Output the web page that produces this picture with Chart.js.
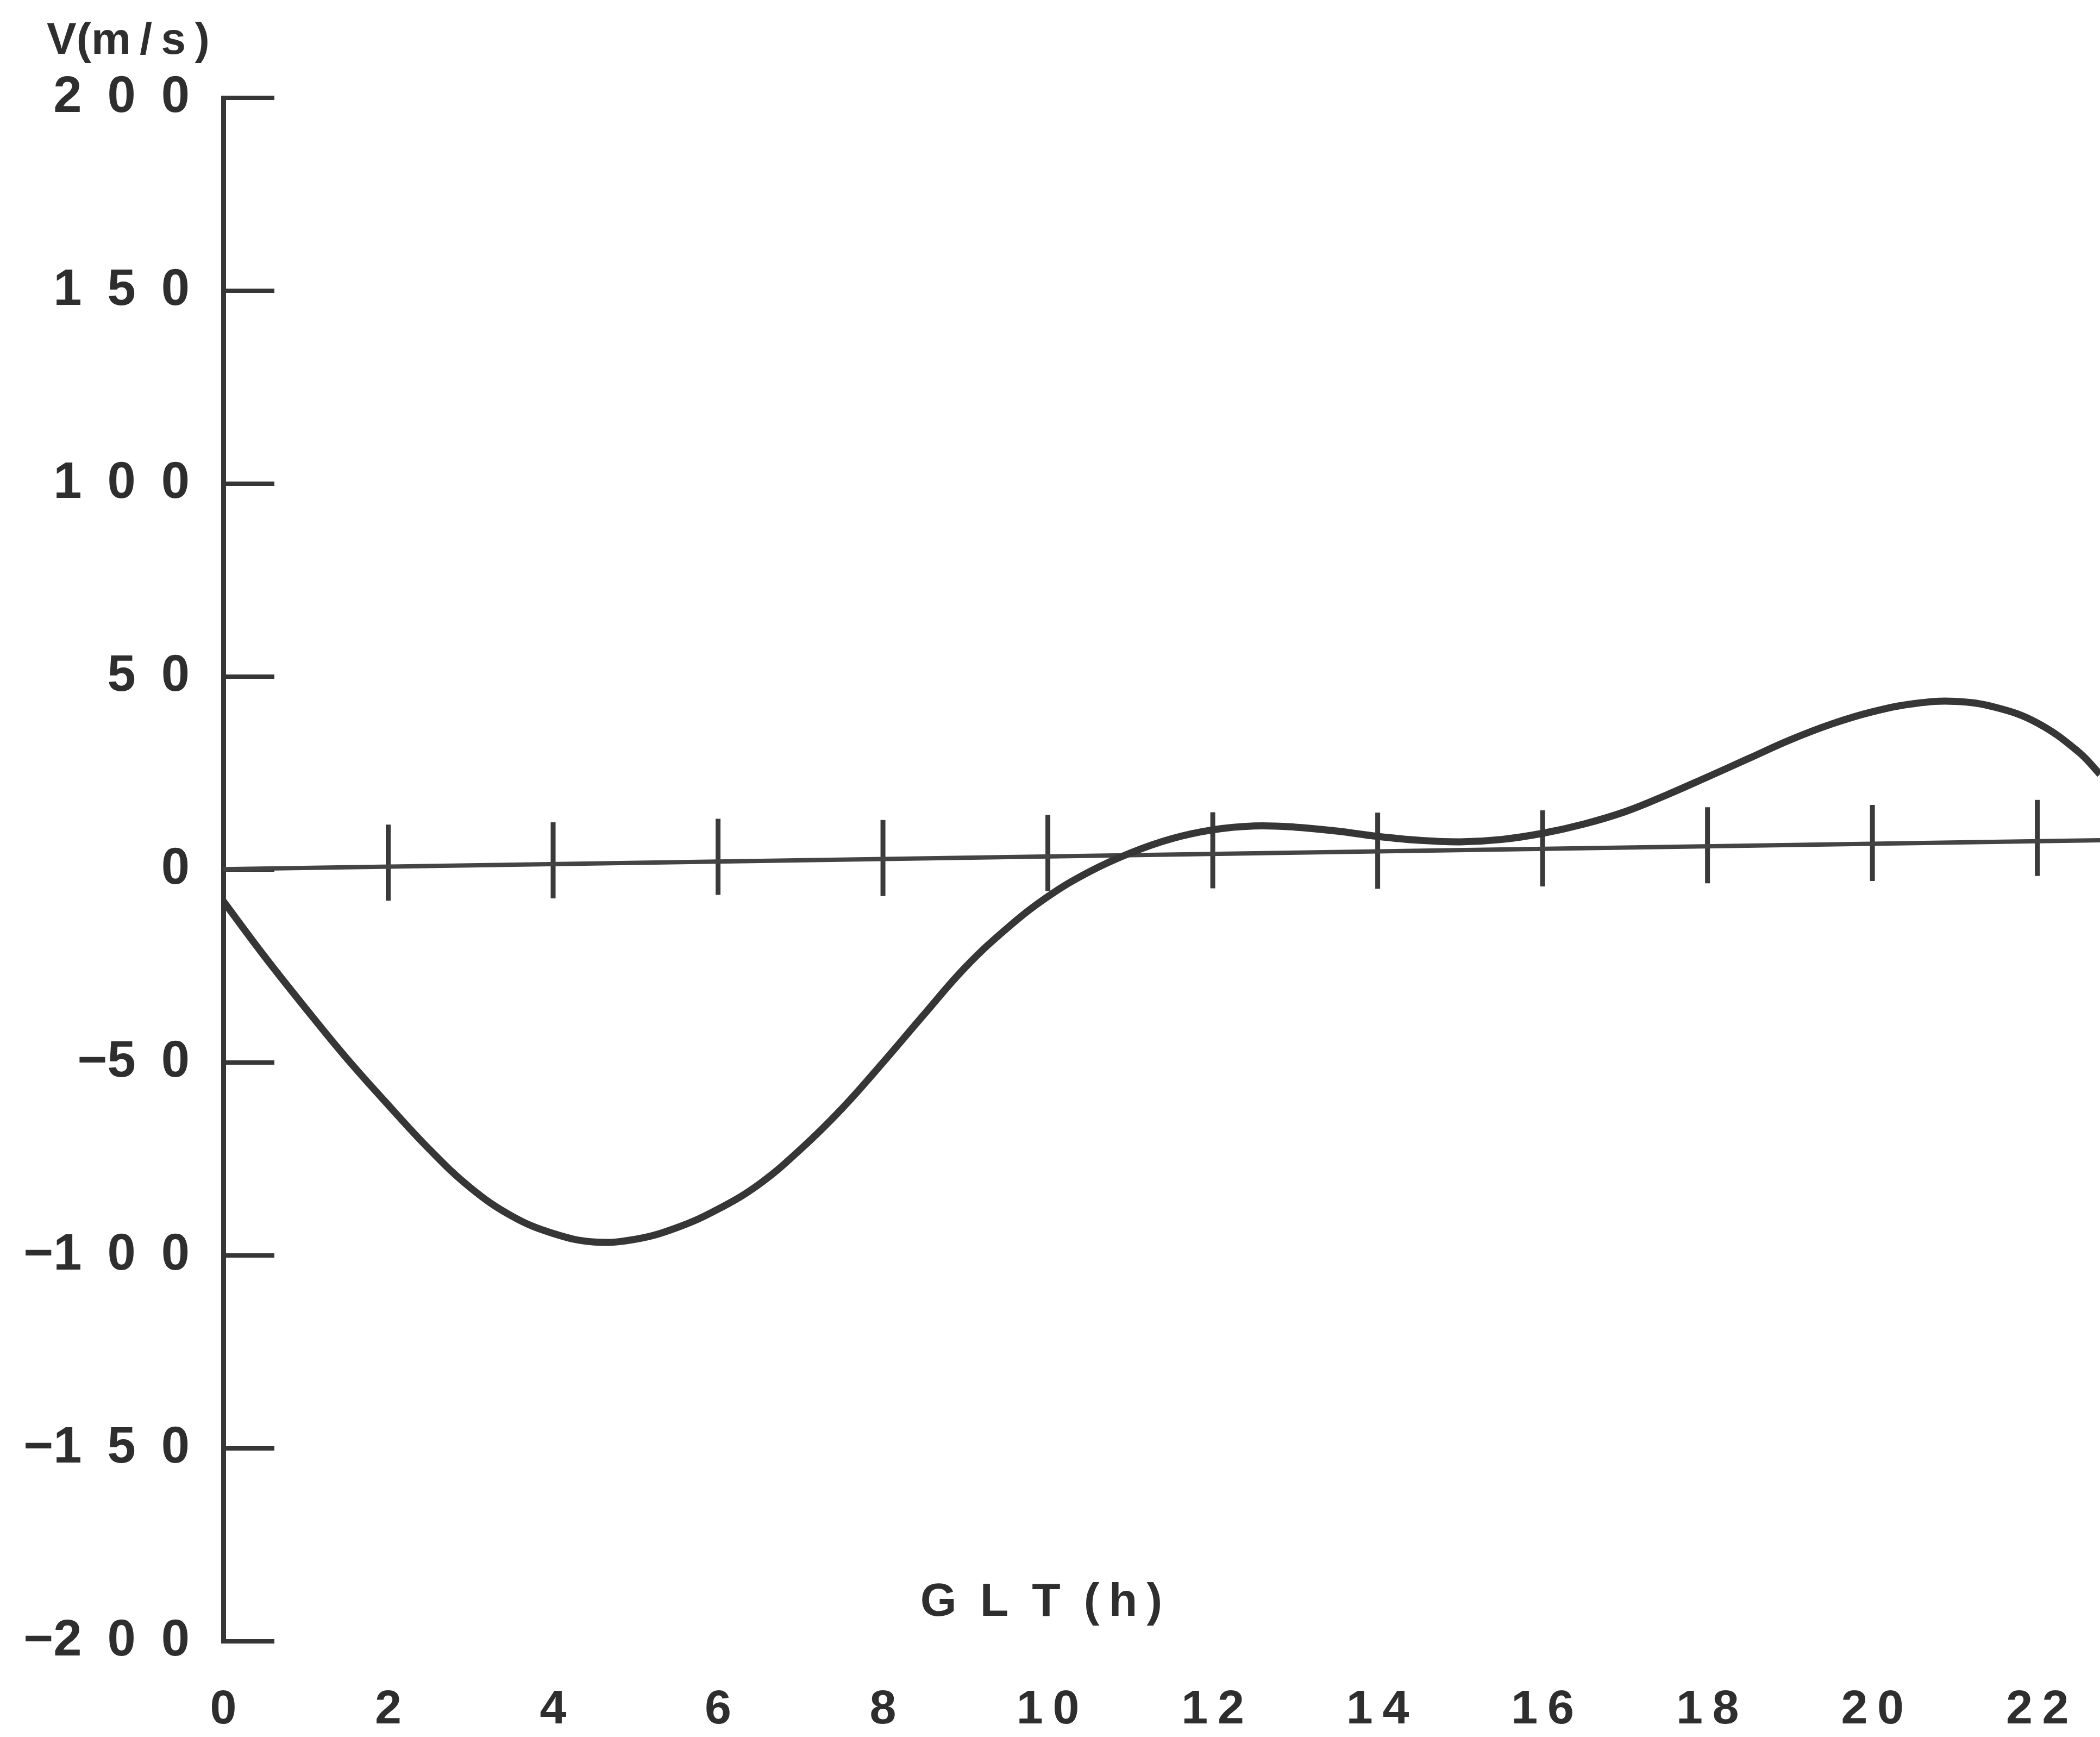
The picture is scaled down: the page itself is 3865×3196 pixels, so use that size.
<!DOCTYPE html>
<html>
<head>
<meta charset="utf-8">
<title>V(m/s) - GLT(h)</title>
<script src="https://cdn.jsdelivr.net/npm/chart.js@4.4.1/dist/chart.umd.min.js"></script>
<style>
  html, body { margin: 0; padding: 0; background: #fff; }
  #wrap { width: 3865px; height: 3196px; }
</style>
</head>
<body>
<div id="wrap"><canvas id="myChart"></canvas></div>
<script>
// curve: local time (h) and speed (m/s)
const hours = [0, 0.5, 1, 1.5, 2, 2.5, 3, 3.5, 4, 4.5, 5, 5.5, 6, 6.5, 7, 7.5, 8, 8.5, 9, 9.5,
  10, 10.5, 11, 11.5, 12, 12.5, 13, 13.5, 14, 14.5, 15, 15.5, 16, 16.5, 17, 17.5, 18, 18.5, 19, 19.5,
  20, 20.5, 21, 21.5, 22, 22.5, 22.76];
const speed = [-8.2, -22.5, -36, -49, -61, -72.5, -82.5, -89.8, -94.3, -96.5, -95.8, -92.8, -88, -81.5, -72.5, -62, -50, -37.5, -25.3, -15.3,
  -7, -0.6, 4.3, 8, 10.3, 11.3, 11, 10, 8.6, 7.6, 7.2, 7.8, 9.4, 11.8, 15, 19.3, 24, 28.8, 33.6, 37.7,
  40.9, 43, 43.6, 42, 38, 30.5, 24.7];

// the hand drawn zero line (a little tilted in the figure) and its hour marks
const zeroHours = [0, 22.76];
const zeroValues = [0.1, 7.6];
const markHours = [2, 4, 6, 8, 10, 12, 14, 16, 18, 20, 22];
const markValues = [1.8, 2.4, 3.3, 3.0, 4.3, 5.0, 4.9, 5.5, 6.3, 6.9, 8.2];

// axes
const xTicks = [0, 2, 4, 6, 8, 10, 12, 14, 16, 18, 20, 22];
const yTicks = [-200, -150, -100, -50, 0, 50, 100, 150, 200];
const xTitle = 'GLT(h)';
const yTitle = 'V(m/s)';

const ink = '#363636';
const textInk = '#2e2e2e';
const fontFamily = '"Liberation Sans", Arial, sans-serif';

const pairs = (xs, ys) => xs.map((x, i) => ({ x: x, y: ys[i] }));

// the figure prints its numbers with wide gaps between the digits
const spaced = (s, gap) => s.split('').join(gap);
const yLabel = v => (v < 0 ? '\u2212' : '') + spaced(String(Math.abs(v)), '\u2002');

// axis titles sit inside the frame, so they are drawn here
const axisNotes = {
  id: 'axisNotes',
  afterDraw(chart) {
    const { ctx, scales: { x, y } } = chart;
    ctx.save();
    ctx.fillStyle = textInk;
    ctx.textBaseline = 'middle';
    ctx.font = 'bold 82px ' + fontFamily;
    ctx.textAlign = 'left';
    ctx.fillText('V(m\u2009/\u2009s\u2009)', 86, y.getPixelForValue(200) - 104);
    ctx.font = 'bold 86px ' + fontFamily;
    ctx.textAlign = 'center';
    ctx.fillText('G\u2002L\u2002T\u2002(\u2009h\u2009)', x.getPixelForValue(9.92), y.getPixelForValue(-190));
    ctx.restore();
  }
};

const ctx = document.getElementById('myChart');

new Chart(ctx, {
  type: 'line',
  data: {
    datasets: [{
      label: yTitle,
      data: pairs(hours, speed),
      borderColor: ink,
      borderWidth: 13,
      pointRadius: 0,
      tension: 0.4,
      fill: false
    }, {
      label: 'zero line',
      data: pairs(zeroHours, zeroValues),
      borderColor: '#444444',
      borderWidth: 8,
      pointRadius: 0,
      fill: false
    }, {
      type: 'scatter',
      label: 'hour marks',
      data: pairs(markHours, markValues),
      showLine: false,
      pointStyle: 'line',
      pointRotation: 90,
      pointRadius: 70,
      pointBorderWidth: 9,
      pointBorderColor: '#3a3a3a',
      pointBackgroundColor: '#3a3a3a'
    }]
  },
  options: {
    responsive: true,
    maintainAspectRatio: false,
    animation: false,
    events: [],
    layout: { autoPadding: false, padding: { top: 180, right: 0, bottom: 0, left: 0 } },
    plugins: {
      legend: { display: false },
      tooltip: { enabled: false },
      title: { display: false }
    },
    scales: {
      x: {
        type: 'linear',
        min: 0,
        max: 22.76,
        afterBuildTicks: scale => { scale.ticks = xTicks.map(v => ({ value: v })); },
        afterFit: scale => {
          scale.height = 176;
          scale.paddingLeft = 0;
          scale.paddingRight = 0;
        },
        grid: { display: false },
        border: { display: false },
        ticks: {
          padding: 66,
          autoSkip: false,
          maxRotation: 0,
          color: textInk,
          font: { family: fontFamily, size: 88, weight: 'bold' },
          callback: v => spaced(String(v), '\u2009')
        },
        title: { display: false, text: xTitle }
      },
      y: {
        min: -200,
        max: 200,
        afterBuildTicks: scale => { scale.ticks = yTicks.map(v => ({ value: v })); },
        afterFit: scale => {
          scale.width = 411;
          scale.paddingTop = 0;
          scale.paddingBottom = 0;
        },
        grid: {
          drawOnChartArea: false,
          drawTicks: true,
          tickLength: -94,
          color: ink,
          lineWidth: 8
        },
        border: { display: true, color: ink, width: 9 },
        ticks: {
          padding: 156,
          color: textInk,
          font: { family: fontFamily, size: 94, weight: 'bold' },
          callback: v => yLabel(v)
        },
        title: { display: false, text: yTitle }
      }
    }
  },
  plugins: [axisNotes]
});
</script>
</body>
</html>
